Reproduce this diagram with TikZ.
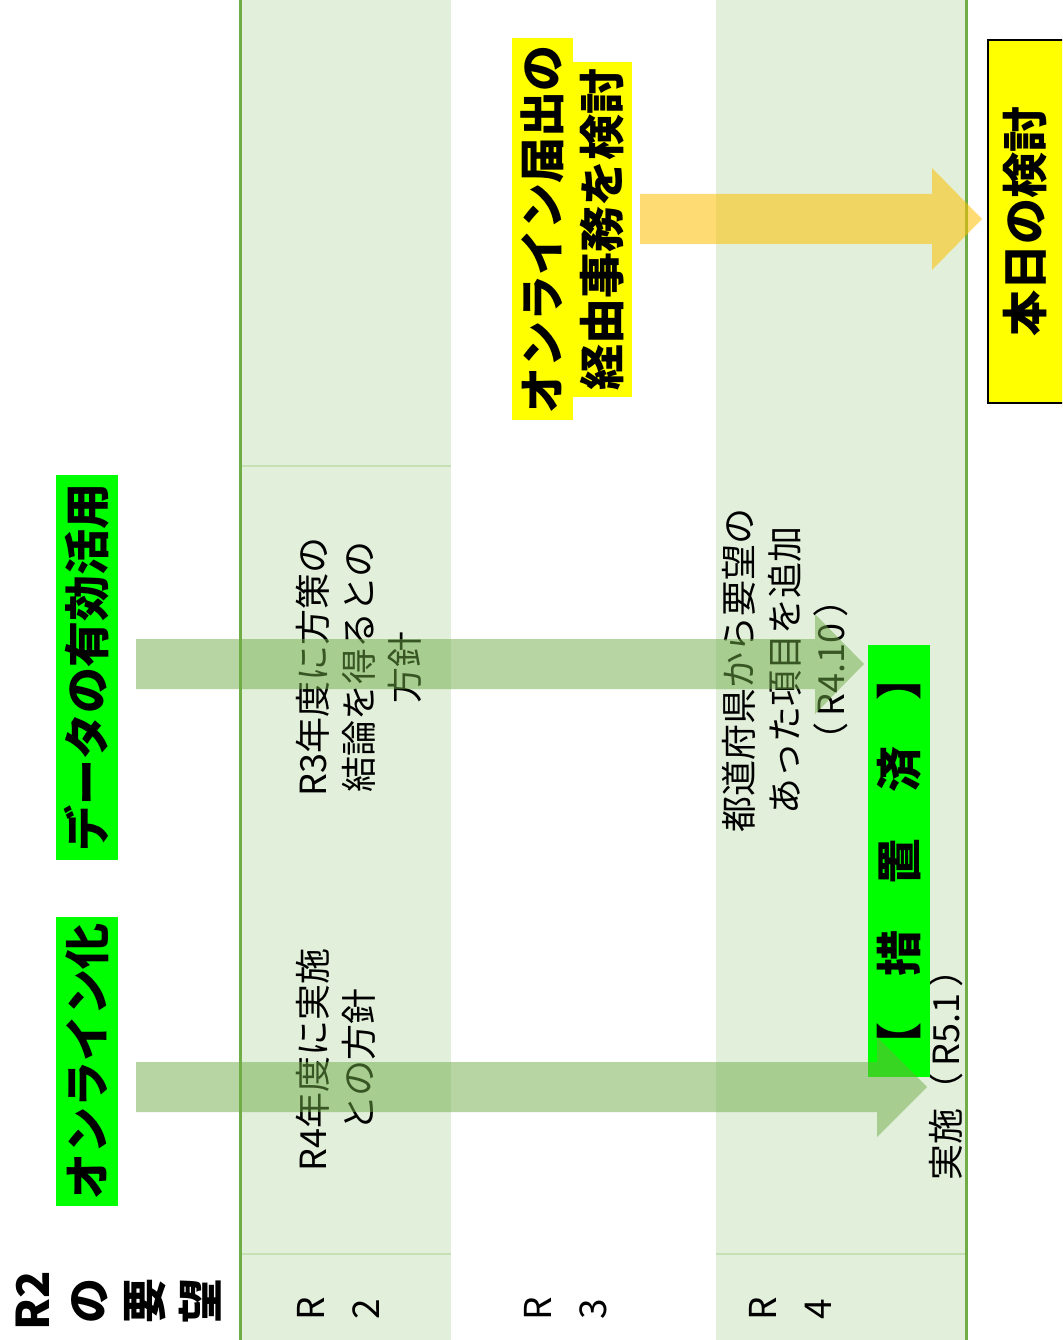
\documentclass[tikz,border=0pt]{standalone}
\usepackage{fontspec}
\setmainfont{Noto Sans CJK JP}
\definecolor{colbg}{HTML}{E2EFDA}
\definecolor{colline}{HTML}{70AD47}
\definecolor{rowline}{HTML}{C5E0B4}
\definecolor{hlgreen}{HTML}{00FF00}
\definecolor{hlyellow}{HTML}{FFFF00}
\definecolor{arrgreen}{HTML}{70AD47}
\definecolor{arryellow}{HTML}{FFC000}
\tikzset{
  vtext/.style={rotate=90, inner sep=0pt, align=center, text=black},
  normtxt/.style={vtext, font=\fontsize{36}{46}\selectfont},
  headtxt/.style={vtext, font=\fontsize{37}{55}\selectfont},
  boldtxt/.style={vtext, font=\bfseries\fontsize{46}{56}\selectfont},
  hlbox/.style={boldtxt, fill=hlgreen},
  ylbox/.style={boldtxt, fill=hlyellow},
  garrow/.style={fill=arrgreen, fill opacity=0.5, draw=none},
  yarrow/.style={fill=arryellow, fill opacity=0.55, draw=none}
}
\begin{document}
\begin{tikzpicture}[x=1pt,y=-1pt]
\useasboundingbox (0,0) rectangle (1062,1340);
\clip (0,0) rectangle (1062,1340);
\fill[white] (0,0) rectangle (1062,1340);
% columns
\fill[colbg] (240,0) rectangle (451,1340);
\fill[colbg] (716,0) rectangle (966,1340);
\draw[rowline, line width=1.5pt] (241,466) -- (451,466);
\draw[rowline, line width=1.5pt] (241,1254) -- (451,1254);
\draw[rowline, line width=1.5pt] (716,1254) -- (965,1254);
\draw[colline, line width=3pt] (240,0) -- (240,1340);
\draw[colline, line width=3pt] (966,0) -- (966,1340);
% header texts
\node[vtext, font=\bfseries\fontsize{45}{56}\selectfont] (req) at (119,1301) {R2\\の\\要\\望};
\node[headtxt] (hr2) at (338,1309) {R\\2};
\node[headtxt] (hr3) at (566,1309) {R\\3};
\node[headtxt] (hr4) at (790,1309) {R\\4};
% highlighted themes
\node[hlbox, minimum width=289pt, minimum height=62pt] (online) at (87,1061.5) {オンライン化};
\node[hlbox, minimum width=385pt, minimum height=62pt] (data) at (87,667.5) {データの有効活用};
\node[ylbox, minimum width=382pt, minimum height=61pt] (todoke1) at (542.5,229) {オンライン届出の};
\node[ylbox, minimum width=335pt, minimum height=59pt] (todoke2) at (602.5,229.5) {経由事務を検討};
% today's box
\draw[fill=hlyellow, draw=black, line width=2pt] (988,40) rectangle (1080,403);
\node[boldtxt] (today) at (1025,221) {本日の検討};
% cell texts
\node[normtxt] (r4plan) at (336,1060) {R4年度に実施\\との方針};
\node[normtxt] (r3plan) at (358.5,667) {R3年度に方策の\\結論を得るとの\\方針};
\node[normtxt] (add) at (785,670) {都道府県から要望の\\あった項目を追加\\（\,R4.10\,）};
\node[normtxt] (impl) at (946,1066) {実施（\,R5.1\,）};
\node[hlbox, minimum width=432pt, minimum height=62pt] (done) at (899,861) {【　措　置　済　】};
% arrows
\fill[yarrow] (640,194) -- (932,194) -- (932,168) -- (982,219) -- (932,270) -- (932,244) -- (640,244) -- cycle;
\fill[garrow] (136,1062) -- (877,1062) -- (877,1037) -- (927,1087) -- (877,1137) -- (877,1112) -- (136,1112) -- cycle;
\fill[garrow] (136,639) -- (815,639) -- (815,614) -- (864,664) -- (815,714) -- (815,689) -- (136,689) -- cycle;
\end{tikzpicture}
\end{document}
